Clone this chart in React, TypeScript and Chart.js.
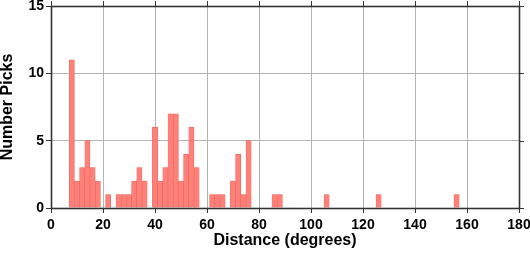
import React, { useEffect, useRef } from "react";
import { Chart, registerables } from "chart.js";

Chart.register(...registerables);

// Histogram bins (2-degree wide, centred on these distances)
const binCenters = [8, 10, 12, 14, 16, 18, 22, 26, 28, 30, 32, 34, 36, 40, 42, 44, 46, 48, 50, 52, 54, 56, 62, 64, 66, 70, 72, 74, 76, 86, 88, 106, 126, 156];
const pickCounts = [11, 2, 3, 5, 3, 2, 1, 1, 1, 1, 2, 3, 2, 6, 2, 3, 7, 7, 2, 4, 6, 3, 1, 1, 1, 2, 4, 1, 5, 1, 1, 1, 1, 1];

const xMin = 0;
const xMax = 180;
const xStep = 20;
const yMin = 0;
const yMax = 15;
const yStep = 5;

const xTitle = "Distance (degrees)";
const yTitle = "Number Picks";

const FONT = "'Liberation Sans', Arial, Helvetica, sans-serif";

const framePlugin = {
  id: "frame",
  afterDraw(chart: any) {
    const { ctx, chartArea } = chart;
    const { left, right, top, bottom } = chartArea;
    const xs = chart.scales.x;
    const ys = chart.scales.y;
    ctx.save();
    ctx.strokeStyle = "#333";
    ctx.lineWidth = 1;
    ctx.beginPath();
    xs.ticks.forEach((t: any) => {
      const px = Math.round(xs.getPixelForValue(t.value)) + 0.5;
      ctx.moveTo(px, top);
      ctx.lineTo(px, top - 5);
    });
    ys.ticks.forEach((t: any) => {
      const py = Math.round(ys.getPixelForValue(t.value)) + 0.5;
      ctx.moveTo(right, py);
      ctx.lineTo(right + 5, py);
    });
    ctx.stroke();
    ctx.lineWidth = 1.6;
    ctx.strokeStyle = "#333";
    ctx.strokeRect(left + 0.5, top + 0.5, right - left, bottom - top);
    ctx.restore();
  },
};

export default function App() {
  const ref = useRef<HTMLCanvasElement>(null);

  useEffect(() => {
    if (!ref.current) return;
    const points = binCenters.map((c, i) => ({ x: c, y: pickCounts[i] }));
    const chart = new Chart(ref.current, {
      type: "bar",
      data: {
        datasets: [
          {
            data: points as any,
            backgroundColor: "#ff8078",
            borderColor: "#e8635a",
            borderWidth: 0.6,
            barPercentage: 1,
            categoryPercentage: 1,
          },
        ],
      },
      options: {
        responsive: false,
        animation: false,
        devicePixelRatio: 1,
        layout: { padding: { top: 6, right: 11, left: 0, bottom: 0 } },
        plugins: {
          legend: { display: false },
          tooltip: { enabled: false },
        },
        scales: {
          x: {
            type: "linear",
            min: xMin,
            max: xMax,
            offset: false,
            ticks: {
              stepSize: xStep,
              color: "#000",
              padding: 4,
              font: { family: FONT, size: 14, weight: "bold" },
              maxRotation: 0,
            },
            grid: {
              offset: false,
              color: "#b4b4b4",
              lineWidth: 1,
              tickColor: "#333",
              tickLength: 5,
              drawTicks: true,
            },
            border: { display: false },
            title: {
              display: true,
              text: xTitle,
              color: "#000",
              font: { family: FONT, size: 16, weight: "bold" },
              padding: { top: 4, bottom: 8 },
            },
            afterFit: (scale: any) => {
              scale.height = 50;
              scale.paddingLeft = 0;
              scale.paddingRight = 0;
            },
          },
          y: {
            min: yMin,
            max: yMax,
            ticks: {
              stepSize: yStep,
              color: "#000",
              padding: 2,
              font: { family: FONT, size: 14, weight: "bold" },
            },
            grid: {
              color: "#b4b4b4",
              lineWidth: 1,
              tickColor: "#333",
              tickLength: 5,
            },
            border: { display: false },
            title: {
              display: true,
              text: yTitle,
              color: "#000",
              font: { family: FONT, size: 16, weight: "bold", lineHeight: 1 },
              padding: { top: 0, bottom: 0 },
            },
            afterFit: (scale: any) => {
              scale.width = 51;
              scale.paddingTop = 0;
              scale.paddingBottom = 0;
            },
          },
        },
      },
      plugins: [framePlugin],
    });
    return () => chart.destroy();
  }, []);

  return (
    <div style={{ position: "absolute", left: 0, top: 0, width: 530, height: 258, background: "#fff" }}>
      <canvas ref={ref} width={530} height={258} style={{ display: "block" }} />
    </div>
  );
}
